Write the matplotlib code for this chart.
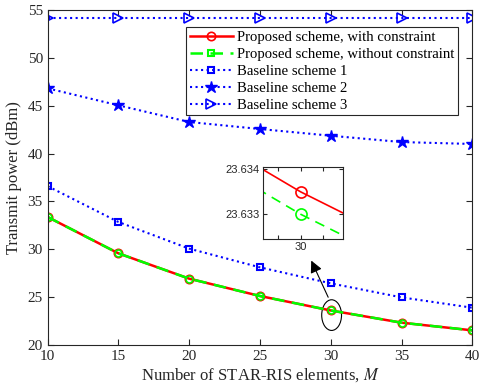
import matplotlib.pyplot as plt
from matplotlib.lines import Line2D
from matplotlib.patches import Ellipse

M = [10, 15, 20, 25, 30, 35, 40]
with_constraint = [33.38, 29.59, 26.95, 25.14, 23.6335, 22.36, 21.56]
without_constraint = [33.3795, 29.5895, 26.9495, 25.1395, 23.6330, 22.3595, 21.5595]
baseline1 = [36.6, 32.86, 30.08, 28.13, 26.46, 25.0, 23.92]
baseline2 = [46.8, 45.03, 43.29, 42.56, 41.86, 41.2, 41.0]
baseline3 = [54.1, 54.1, 54.1, 54.1, 54.1, 54.1, 54.1]
labels = ['Proposed scheme, with constraint', 'Proposed scheme, without constraint',
          'Baseline scheme 1', 'Baseline scheme 2', 'Baseline scheme 3']

plt.rcParams['font.family'] = 'Liberation Serif'
plt.rcParams['mathtext.fontset'] = 'stix'
txt = (0.15, 0.15, 0.15)

fig = plt.figure(figsize=(4.79, 3.90), dpi=100)
ax = fig.add_axes([0.0996, 0.1146, 0.8864, 0.8604])

ax.plot(M, with_constraint, color='r', lw=1.8, marker='o', ms=6, mfc='none', mew=1.2)
ax.plot(M, without_constraint, color=(0, 1, 0), lw=1.8, ls=(0, (5, 3)), marker='o', ms=5, mfc='none', mew=1.2)
ax.plot(M, baseline1, color='b', lw=1.5, ls=':', marker='s', ms=5, mfc='none', mew=1.5)
ax.plot(M, baseline2, color='b', lw=1.5, ls=':', marker='*', ms=9)
ax.plot(M, baseline3, color='b', lw=1.5, ls=':', marker='>', ms=7, mfc='none', mew=1.2)

ax.set_xlim(10, 40)
ax.set_ylim(20, 55)
ax.set_xticks(range(10, 41, 5))
ax.set_yticks(range(20, 56, 5))
ax.tick_params(direction='in', top=True, right=True, labelsize=11, colors=txt, length=4)
for s in ax.spines.values():
    s.set_color(txt)
ax.set_xlabel('Number of STAR-RIS elements, $\\mathit{M}$', fontsize=12, color=txt, labelpad=2)
ax.set_ylabel('Transmit power (dBm)', fontsize=12, color=txt, labelpad=4)

handles = [
    Line2D([], [], color='r', lw=1.8, marker='o', ms=6, mfc='none', mew=1.2),
    Line2D([], [], color=(0, 1, 0), lw=1.8, ls=(0, (5, 3)), marker='s', ms=4, mfc='none', mew=1.5),
    Line2D([], [], color='b', lw=1.5, ls=':', marker='s', ms=5, mfc='none', mew=1.5),
    Line2D([], [], color='b', lw=1.5, ls=':', marker='*', ms=9),
    Line2D([], [], color='b', lw=1.5, ls=':', marker='>', ms=7, mfc='none', mew=1.2),
]
leg = ax.legend(handles, labels, loc='upper right', bbox_to_anchor=(0.967, 0.949), fontsize=10.6,
                frameon=True, fancybox=False, edgecolor=txt, framealpha=1,
                handlelength=2.9, handletextpad=0.3, borderpad=0.25, labelspacing=0.25, borderaxespad=0)
leg.get_frame().set_linewidth(0.8)

# zoom ellipse and arrow
ax.add_patch(Ellipse((30.06, 23.15), 1.4, 3.2, fill=False, color='k', lw=0.8))
ax.annotate('', xy=(28.54, 29.1), xytext=(29.9, 24.75),
            arrowprops=dict(arrowstyle='-|>', color='k', lw=0.8, mutation_scale=18))

# inset
ins = fig.add_axes([0.5484, 0.3864, 0.167, 0.186])
ins.plot(M, with_constraint, color='r', lw=1.2, marker='o', ms=8, mfc='none', mew=1.2)
ins.plot(M, without_constraint, color=(0, 1, 0), lw=1.2, ls=(0, (6, 4)), marker='o', ms=8, mfc='none', mew=1.2)
ins.set_xlim(29.99834, 30.00184)
ins.set_ylim(23.63244, 23.63406)
ins.set_xticks([29.999, 30.0, 30.001])
ins.set_xticklabels(['', '30', ''])
ins.set_yticks([23.633, 23.634])
ins.set_yticklabels(['23.633', '23.634'])
ins.tick_params(direction='in', top=True, right=True, labelsize=8, colors=txt, length=3, pad=2)
for lab in ins.get_xticklabels() + ins.get_yticklabels():
    lab.set_family('Liberation Sans')
for s in ins.spines.values():
    s.set_color(txt)

fig.savefig('out.png', dpi=100)
